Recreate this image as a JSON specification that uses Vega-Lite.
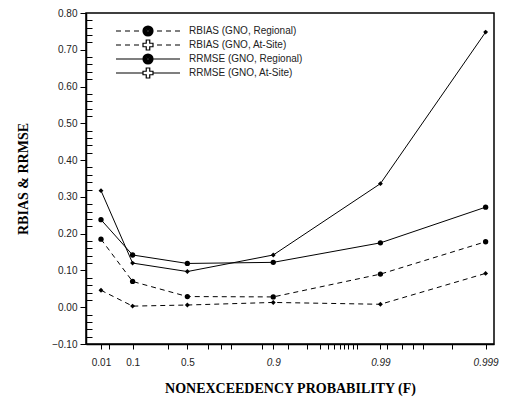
{
  "$schema": "https://vega.github.io/schema/vega-lite/v6.json",
  "width": 408,
  "height": 331,
  "autosize": {"type": "none"},
  "padding": {"left": 86, "top": 13, "right": 23, "bottom": 63},
  "background": "white",
  "config": {
    "view": {"stroke": "black", "strokeWidth": 1.5},
    "axis": {"domainColor": "black", "domainWidth": 1.5, "tickColor": "black", "labelColor": "#222", "labelFont": "Liberation Sans", "labelFontSize": 10, "titleFont": "Liberation Serif", "titleFontWeight": "bold", "titleFontSize": 14, "titleColor": "black", "grid": false}
  },
  "data": {
    "values": [
      {"series": "RBIAS (GNO, Regional)", "F": 0.01, "v": 0.185},
      {"series": "RBIAS (GNO, Regional)", "F": 0.1, "v": 0.070},
      {"series": "RBIAS (GNO, Regional)", "F": 0.5, "v": 0.029},
      {"series": "RBIAS (GNO, Regional)", "F": 0.9, "v": 0.028},
      {"series": "RBIAS (GNO, Regional)", "F": 0.99, "v": 0.090},
      {"series": "RBIAS (GNO, Regional)", "F": 0.999, "v": 0.178},
      {"series": "RBIAS (GNO, At-Site)", "F": 0.01, "v": 0.046},
      {"series": "RBIAS (GNO, At-Site)", "F": 0.1, "v": 0.003},
      {"series": "RBIAS (GNO, At-Site)", "F": 0.5, "v": 0.006},
      {"series": "RBIAS (GNO, At-Site)", "F": 0.9, "v": 0.013},
      {"series": "RBIAS (GNO, At-Site)", "F": 0.99, "v": 0.008},
      {"series": "RBIAS (GNO, At-Site)", "F": 0.999, "v": 0.092},
      {"series": "RRMSE (GNO, Regional)", "F": 0.01, "v": 0.238},
      {"series": "RRMSE (GNO, Regional)", "F": 0.1, "v": 0.142},
      {"series": "RRMSE (GNO, Regional)", "F": 0.5, "v": 0.119},
      {"series": "RRMSE (GNO, Regional)", "F": 0.9, "v": 0.122},
      {"series": "RRMSE (GNO, Regional)", "F": 0.99, "v": 0.175},
      {"series": "RRMSE (GNO, Regional)", "F": 0.999, "v": 0.272},
      {"series": "RRMSE (GNO, At-Site)", "F": 0.01, "v": 0.317},
      {"series": "RRMSE (GNO, At-Site)", "F": 0.1, "v": 0.120},
      {"series": "RRMSE (GNO, At-Site)", "F": 0.5, "v": 0.097},
      {"series": "RRMSE (GNO, At-Site)", "F": 0.9, "v": 0.142},
      {"series": "RRMSE (GNO, At-Site)", "F": 0.99, "v": 0.336},
      {"series": "RRMSE (GNO, At-Site)", "F": 0.999, "v": 0.748}
    ]
  },
  "transform": [{"calculate": "-log(-log(datum.F))", "as": "g"}],
  "encoding": {
    "x": {
      "field": "g", "type": "quantitative",
      "scale": {"domain": [-1.856, 7.091], "nice": false, "zero": false},
      "axis": {
        "title": "NONEXCEEDENCY  PROBABILITY (F)",
        "titlePadding": 14,
        "values": [-1.5272, -1.352, -0.834, -0.058, 0.3665, 0.819, 1.105, 1.324, 2.004, 2.2504, 2.574, 2.991, 3.276, 3.451, 3.583, 3.714, 3.802, 3.89, 3.999, 4.087, 4.6001, 4.745, 5.074, 5.315, 5.534, 6.17, 6.9073],
        "labelExpr": "indexof(['0.01','0.1','0.5','0.9','0.99','0.999'], format(exp(-exp(-datum.value)), '.3~f')) >= 0 ? format(exp(-exp(-datum.value)), '.3~f') : ''",
        "labelFontStyle": {"condition": {"test": "datum.value > 2", "value": "italic"}, "value": "normal"},
        "tickSize": 5,
        "labelPadding": 8
      }
    },
    "y": {
      "field": "v", "type": "quantitative",
      "scale": {"domain": [-0.1, 0.8], "nice": false, "zero": false},
      "axis": {
        "title": "RBIAS & RRMSE",
        "titlePadding": 21,
        "values": [-0.1, -0.08, -0.06, -0.04, -0.02, 0, 0.02, 0.04, 0.06, 0.08, 0.1, 0.12, 0.14, 0.16, 0.18, 0.2, 0.22, 0.24, 0.26, 0.28, 0.3, 0.32, 0.34, 0.36, 0.38, 0.4, 0.42, 0.44, 0.46, 0.48, 0.5, 0.52, 0.54, 0.56, 0.58, 0.6, 0.62, 0.64, 0.66, 0.68, 0.7, 0.72, 0.74, 0.76, 0.78, 0.8],
        "labelExpr": "abs(datum.value*10 - round(datum.value*10)) < 0.001 ? format(datum.value, '.2f') : ''",
        "tickSize": {"condition": {"test": "abs(datum.value*10 - round(datum.value*10)) < 0.001", "value": 6}, "value": -6},
        "labelPadding": 3
      }
    }
  },
  "layer": [
    {
      "transform": [{"filter": "indexof(datum.series, 'RBIAS') >= 0"}],
      "mark": {"type": "line", "color": "black", "strokeWidth": 1, "strokeDash": [5, 4]},
      "encoding": {"detail": {"field": "series"}}
    },
    {
      "transform": [{"filter": "indexof(datum.series, 'RRMSE') >= 0"}],
      "mark": {"type": "line", "color": "black", "strokeWidth": 1},
      "encoding": {"detail": {"field": "series"}}
    },
    {
      "transform": [{"filter": "indexof(datum.series, 'Regional') >= 0"}],
      "mark": {"type": "point", "shape": "circle", "filled": true, "color": "black", "size": 28, "opacity": 1}
    },
    {
      "transform": [{"filter": "indexof(datum.series, 'At-Site') >= 0"}],
      "mark": {"type": "point", "shape": "diamond", "filled": true, "color": "black", "size": 24, "opacity": 1}
    },
    {
      "mark": {"type": "point", "filled": false, "color": "black", "strokeWidth": 1, "opacity": 0},
      "encoding": {
        "shape": {
          "field": "series", "type": "nominal",
          "scale": {
            "domain": ["RBIAS (GNO, Regional)", "RBIAS (GNO, At-Site)", "RRMSE (GNO, Regional)", "RRMSE (GNO, At-Site)"],
            "range": [
              "M-6.4,0L-5.4,0M-4.6,0L-3.6,0M-2.8,0L-1.8,0M1.8,0L2.8,0M3.6,0L4.6,0M5.4,0L6.4,0M-1,0A1,1,0,1,1,1,0A1,1,0,1,1,-1,0ZM-0.8,0A0.8,0.8,0,1,1,0.8,0A0.8,0.8,0,1,1,-0.8,0ZM-0.6,0A0.6,0.6,0,1,1,0.6,0A0.6,0.6,0,1,1,-0.6,0ZM-0.4,0A0.4,0.4,0,1,1,0.4,0A0.4,0.4,0,1,1,-0.4,0ZM-0.2,0A0.2,0.2,0,1,1,0.2,0A0.2,0.2,0,1,1,-0.2,0Z",
              "M-6.4,0L-5.4,0M-4.6,0L-3.6,0M-2.8,0L-1.8,0M1.8,0L2.8,0M3.6,0L4.6,0M5.4,0L6.4,0M-0.35,-1L0.35,-1L0.35,-0.35L1,-0.35L1,0.35L0.35,0.35L0.35,1L-0.35,1L-0.35,0.35L-1,0.35L-1,-0.35L-0.35,-0.35Z",
              "M-6.4,0L-1,0M1,0L6.4,0M-1,0A1,1,0,1,1,1,0A1,1,0,1,1,-1,0ZM-0.8,0A0.8,0.8,0,1,1,0.8,0A0.8,0.8,0,1,1,-0.8,0ZM-0.6,0A0.6,0.6,0,1,1,0.6,0A0.6,0.6,0,1,1,-0.6,0ZM-0.4,0A0.4,0.4,0,1,1,0.4,0A0.4,0.4,0,1,1,-0.4,0ZM-0.2,0A0.2,0.2,0,1,1,0.2,0A0.2,0.2,0,1,1,-0.2,0Z",
              "M-6.4,0L-1,0M1,0L6.4,0M-0.35,-1L0.35,-1L0.35,-0.35L1,-0.35L1,0.35L0.35,0.35L0.35,1L-0.35,1L-0.35,0.35L-1,0.35L-1,-0.35L-0.35,-0.35Z"
            ]
          },
          "legend": {
            "title": null, "orient": "none", "legendX": 56, "legendY": 12, "padding": 0,
            "symbolSize": 100, "symbolStrokeColor": "black", "symbolStrokeWidth": 1.2, "symbolOpacity": 1, "symbolFillColor": "transparent",
            "labelFont": "Liberation Sans", "labelFontSize": 10, "labelColor": "#222", "labelOffset": 35, "rowPadding": -2
          }
        }
      }
    }
  ]
}
